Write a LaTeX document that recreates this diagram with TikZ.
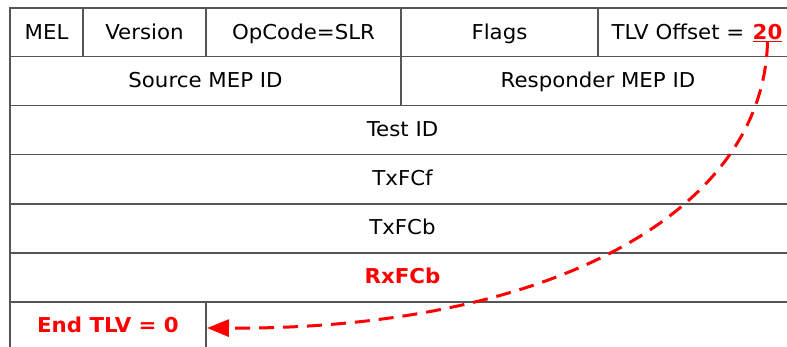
\documentclass[tikz,border=0pt]{standalone}
\usepackage{fontspec}
\setmainfont{DejaVu Sans}[FakeStretch=1.04]
\usetikzlibrary{arrows.meta,positioning}
\definecolor{gridgrey}{RGB}{85,85,85}
\definecolor{alertred}{RGB}{255,0,0}

\begin{document}
\begin{tikzpicture}[x=1pt,y=-1pt,
    cell/.style={font=\fontsize{20.5}{24}\selectfont, inner sep=0pt, anchor=base},
    hot/.style={cell, font=\fontsize{20.5}{24}\selectfont\bfseries, text=alertred},
    rule/.style={gridgrey, line width=1.6pt},
    link/.style={alertred, line width=3pt, dash pattern=on 15pt off 9pt,
      -{Triangle[length=22pt,width=17pt]}}]
    \useasboundingbox (0,0) rectangle (787,347);
    \clip (0,0) rectangle (787,347);
    % Frame and row rules
    \draw[rule] (10,347) -- (10,8) -- (795,8) -- (795,347);
    \foreach \yy in {56.5,105.5,154.5,204,253,302}
      \draw[rule] (10,\yy) -- (795,\yy);
    % Column rules
    \foreach \xx in {83,206,401,598}
      \draw[rule] (\xx,8) -- (\xx,56.5);
    \draw[rule] (401,56.5) -- (401,105.5);
    \draw[rule] (206,302) -- (206,347);
    % Header row
    \node[cell] (mel) at (46.5,39.5) {MEL};
    \node[cell] (ver) at (144.5,39.5) {Version};
    \node[cell] (opc) at (303.5,39.5) {OpCode=SLR};
    \node[cell] (flags) at (499.5,39.5) {Flags};
    \node[hot] (twenty) at (767.5,39.5) {\underline{20}};
    \node[cell, base left=8pt of twenty] (offlbl) {TLV Offset =};
    % MEP IDs
    \node[cell] (src) at (205.5,87.5) {Source MEP ID};
    \node[cell] (rsp) at (598,87.5) {Responder MEP ID};
    % Full-width rows
    \node[cell] (tid) at (402.5,136.5) {Test ID};
    \node[cell] (txf) at (402.5,185.5) {TxFCf};
    \node[cell] (txb) at (402.5,235) {TxFCb};
    \node[hot] (rxb) at (402.5,284) {RxFCb};
    % Last row
    \node[hot] (endtlv) at (108,333) {End TLV = 0};
    \coordinate (tlvend) at (207,328);
    % Offset pointer
    \draw[link] (twenty.south) .. controls (763,215) and (545,330) .. (tlvend);
\end{tikzpicture}
\end{document}
